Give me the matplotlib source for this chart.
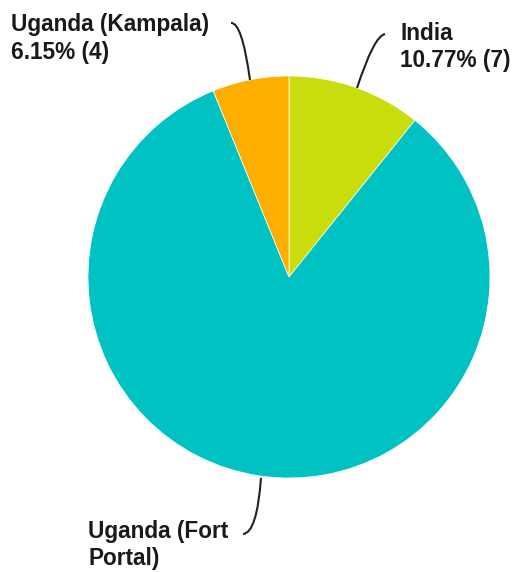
import matplotlib
matplotlib.use("Agg")
import matplotlib.pyplot as plt
from matplotlib.path import Path
from matplotlib.patches import PathPatch

# data
labels = ["India", "Uganda (Fort Portal)", "Uganda (Kampala)"]
counts = [7, 54, 4]
colors = ["#c9dc0c", "#00c2c2", "#ffae00"]
label_text = ["India\n10.77% (7)", "Uganda (Fort\nPortal)", "Uganda (Kampala)\n6.15% (4)"]

W, H = 517, 572
fig = plt.figure(figsize=(W / 100, H / 100), dpi=100)
ax = fig.add_axes([0, 0, 1, 1])

# pie centre / radius in pixel-ish coordinates (y measured from bottom)
cx, cy, r = 289, H - 277, 201
ax.pie(counts, colors=colors, startangle=90, counterclock=False,
       center=(cx, cy), radius=r, frame=True,
       wedgeprops=dict(edgecolor="white", linewidth=0.5))
ax.set_xlim(0, W)
ax.set_ylim(0, H)
ax.set_aspect("equal")
ax.axis("off")

font = dict(family=["Liberation Sans", "DejaVu Sans"], fontsize=16.3,
            fontweight="bold", color="#1a1a1a", linespacing=1.25)

# label anchors (top-left) and leader curves, in pixels from the top
label_pos = [(400, 22), (88, 520), (11, 13)]
leaders = [
    [(357, 88), (374, 36), (385, 34)],
    [(261, 478), (257, 533), (243, 534)],
    [(250, 80), (242, 22), (231, 23)],
]

for txt, (x, y) in zip(label_text, label_pos):
    ax.text(x, H - y, txt, ha="left", va="top", **font)

for pts in leaders:
    verts = [(px, H - py) for px, py in pts]
    path = Path(verts, [Path.MOVETO, Path.CURVE3, Path.CURVE3])
    ax.add_patch(PathPatch(path, facecolor="none", edgecolor="#222222", lw=1.5))

fig.savefig("out.png", dpi=100)
